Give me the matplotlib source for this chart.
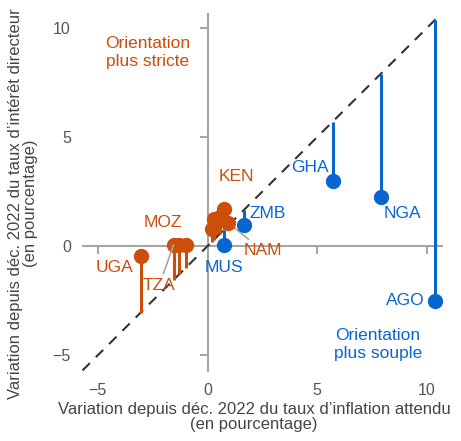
import matplotlib.pyplot as plt

plt.rcParams['font.family'] = ['Liberation Sans', 'DejaVu Sans']

# data: change since Dec 2022 (percentage points)
# x = expected inflation, y = policy rate
strict_infl = [-3.05, -1.55, -1.3, -1.0, 0.75, 0.3, 0.55, 0.2, 0.95]
strict_rate = [-0.45, 0.05, 0.05, 0.05, 1.7, 1.25, 1.35, 0.8, 1.05]

loose_infl = [0.75, 1.65, 5.7, 7.9, 10.35]
loose_rate = [0.05, 0.95, 3.0, 2.25, -2.5]

xticks = [-5, 5, 10]
yticks = [-5, 5, 10]
tick_labels = [-5, 0, 5, 10]

orange = '#CC4E0A'
blue = '#0A66CF'
gray = '#A6A6A6'
txt = '#454545'

fig = plt.figure(figsize=(4.61, 4.41), dpi=100)
ax = fig.add_axes([0.178, 0.156, 0.783, 0.815])
ax.set_xlim(-5.72, 10.73)
ax.set_ylim(-5.78, 10.69)

for s in ax.spines.values():
    s.set_visible(False)
ax.set_xticks(tick_labels)
ax.set_yticks(tick_labels)
ax.tick_params(length=0, labelsize=11.5, labelcolor='#555555', pad=8)

# zero lines with small ticks
ax.axhline(0, color=gray, lw=1.5, zorder=1)
ax.axvline(0, color=gray, lw=1.5, zorder=1)
ax.plot(xticks, [0] * len(xticks), ls='', marker=3, ms=6, mew=1.5, color=gray, zorder=1)
ax.plot([0] * len(yticks), yticks, ls='', marker=0, ms=6, mew=1.5, color=gray, zorder=1)

# 45 degree line
ax.plot([-5.7, 10.5], [-5.7, 10.5], color='#333333', lw=1.5, ls=(0, (5, 4)), zorder=2)

# stems to the diagonal + markers
ax.vlines(strict_infl, strict_rate, strict_infl, color=orange, lw=2.2, zorder=3)
ax.vlines(loose_infl, loose_rate, loose_infl, color=blue, lw=2.2, zorder=3)
ax.plot(strict_infl, strict_rate, 'o', ms=10, color=orange, zorder=4)
ax.plot(loose_infl, loose_rate, 'o', ms=10, color=blue, zorder=4)

fs = 12.5
ax.text(-2.74, 8.85, 'Orientation\nplus stricte', color=orange, fontsize=fs,
        ha='center', va='center', linespacing=1.25)
ax.text(7.76, -4.5, 'Orientation\nplus souple', color=blue, fontsize=fs,
        ha='center', va='center', linespacing=1.25)

ax.text(1.32, 3.17, 'KEN', color=orange, fontsize=fs, ha='center', va='center')
ax.text(-2.05, 1.1, 'MOZ', color=orange, fontsize=fs, ha='center', va='center')
ax.text(-4.25, -1.0, 'UGA', color=orange, fontsize=fs, ha='center', va='center')
ax.annotate('TZA', xy=(strict_infl[1], strict_rate[1]), xytext=(-2.2, -1.8),
            color=orange, fontsize=fs, ha='center', va='center', zorder=5,
            arrowprops=dict(arrowstyle='-', color=gray, lw=1.2, shrinkA=1, shrinkB=0))
ax.annotate('NAM', xy=(strict_infl[8], strict_rate[8]), xytext=(2.5, -0.2),
            color=orange, fontsize=fs, ha='center', va='center',
            arrowprops=dict(arrowstyle='-', color=gray, lw=1.2, shrinkA=1, shrinkB=0))

ax.text(2.74, 1.5, 'ZMB', color=blue, fontsize=fs, ha='center', va='center')
ax.text(0.73, -1.0, 'MUS', color=blue, fontsize=fs, ha='center', va='center')
ax.text(4.66, 3.6, 'GHA', color=blue, fontsize=fs, ha='center', va='center')
ax.text(8.86, 1.47, 'NGA', color=blue, fontsize=fs, ha='center', va='center')
ax.text(9.0, -2.48, 'AGO', color=blue, fontsize=fs, ha='center', va='center')

ax.set_xlabel('Variation depuis déc. 2022 du taux d\u2019inflation attendu\n(en pourcentage)',
              fontsize=12, color=txt, linespacing=1.05)
ax.set_ylabel('Variation depuis déc. 2022 du taux d\u2019intérêt directeur\n(en pourcentage)',
              fontsize=12, color=txt, linespacing=1.0)
ax.xaxis.set_label_coords(0.476, -0.082)
ax.yaxis.set_label_coords(-0.122, 0.47)

fig.savefig('out.png', dpi=100)
